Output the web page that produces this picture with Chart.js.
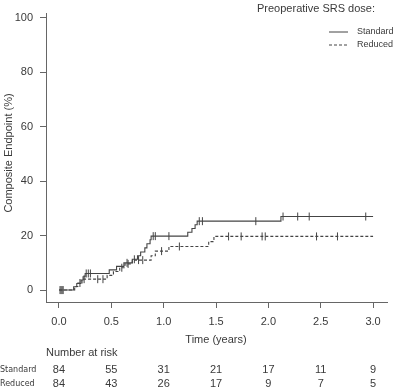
<!DOCTYPE html>
<html>
<head>
<meta charset="utf-8">
<script src="https://cdn.jsdelivr.net/npm/chart.js@4.4.1/dist/chart.umd.min.js"></script>
<style>
  html, body { margin: 0; padding: 0; background: #fff; }
  #wrap { width: 395px; height: 389px; }
</style>
</head>
<body>
<div id="wrap"><canvas id="km_chart"></canvas></div>
<script>
// step curves: time (years) where the estimate changes, and new value (%)
var standard_t = [0, 0.14, 0.17, 0.21, 0.23, 0.25, 0.48, 0.55, 0.62, 0.70, 0.75, 0.78, 0.82, 0.84, 0.87, 0.88, 1.23, 1.27, 1.30, 1.32, 2.12, 3.0];
var standard_v = [0, 1.2, 2.4, 3.7, 4.9, 6.1, 7.4, 8.7, 10.0, 11.3, 12.6, 14.0, 15.5, 17.0, 18.5, 19.8, 21.2, 22.6, 24.0, 25.3, 27.0, 27.0];
var reduced_t = [0, 0.15, 0.18, 0.22, 0.46, 0.52, 0.58, 0.63, 0.70, 0.88, 0.92, 1.05, 1.43, 1.48, 3.0];
var reduced_v = [0, 1.3, 2.6, 4.0, 5.4, 6.8, 8.2, 9.6, 11.0, 12.6, 14.3, 16.0, 17.8, 19.7, 19.7];

// censored observations
var standard_cens_t = [0.01, 0.03, 0.26, 0.28, 0.30, 0.65, 0.72, 0.90, 0.92, 1.05, 1.34, 1.37, 1.88, 2.14, 2.28, 2.39, 2.93];
var standard_cens_v = [0, 0, 6.1, 6.1, 6.1, 10.0, 11.3, 19.8, 19.8, 19.8, 25.3, 25.3, 25.3, 27.0, 27.0, 27.0, 27.0];
var reduced_cens_t = [0.02, 0.04, 0.20, 0.24, 0.37, 0.42, 0.60, 0.66, 0.76, 0.80, 0.98, 1.15, 1.62, 1.74, 1.94, 1.97, 2.46, 2.66];
var reduced_cens_v = [0, 0, 2.6, 4.0, 4.0, 4.0, 8.2, 9.6, 11.0, 11.0, 14.3, 16.0, 19.7, 19.7, 19.7, 19.7, 19.7, 19.7];

var x_ticks = [0, 0.5, 1.0, 1.5, 2.0, 2.5, 3.0];
var y_ticks = [0, 20, 40, 60, 80, 100];

// number at risk, one value per x tick
var risk_standard = [84, 55, 31, 21, 17, 11, 9];
var risk_reduced = [84, 43, 26, 17, 9, 7, 5];

var ink = '#444';
var txt = '#3a3a3a';
var sans = '"Liberation Sans", Arial, sans-serif';

function pts(t, v) {
  return t.map(function (x, i) { return { x: x, y: v[i] }; });
}

var extras = {
  id: 'extras',
  afterDraw: function (chart) {
    var ctx = chart.ctx;
    var xs = chart.scales.x;
    ctx.save();
    ctx.fillStyle = txt;

    // axis titles
    ctx.font = '11px ' + sans;
    ctx.textAlign = 'center';
    ctx.textBaseline = 'middle';
    ctx.fillText('Time (years)', 216, 340);
    ctx.save();
    ctx.translate(9, 153);
    ctx.rotate(-Math.PI / 2);
    ctx.fillText('Composite Endpoint (%)', 0, 0);
    ctx.restore();

    // legend
    ctx.fillText('Preoperative SRS dose:', 316, 9);
    ctx.font = '9px ' + sans;
    ctx.textAlign = 'left';
    var rows = [chart.data.datasets[0], chart.data.datasets[1]];
    rows.forEach(function (ds, i) {
      var y = 32 + i * 13;
      ctx.strokeStyle = ink;
      ctx.lineWidth = 1;
      ctx.setLineDash(ds.borderDash || []);
      ctx.beginPath();
      ctx.moveTo(329, y);
      ctx.lineTo(348, y);
      ctx.stroke();
      ctx.setLineDash([]);
      ctx.fillText(ds.label, 357, y);
    });

    // risk table
    ctx.font = '11px ' + sans;
    ctx.fillText('Number at risk', 46, 353);
    ctx.textAlign = 'center';
    x_ticks.forEach(function (t, i) {
      var px = xs.getPixelForValue(t);
      ctx.fillText(String(risk_standard[i]), px, 370);
      ctx.fillText(String(risk_reduced[i]), px, 384);
    });
    ctx.font = '8px "DejaVu Sans", sans-serif';
    ctx.textAlign = 'left';
    ctx.fillText('Standard', 0, 370);
    ctx.fillText('Reduced', 0, 384);
    ctx.restore();
  }
};

var ctx = document.getElementById('km_chart').getContext('2d');
var km_chart = new Chart(ctx, {
  type: 'line',
  data: {
    datasets: [{
      label: 'Standard',
      data: pts(standard_t, standard_v),
      stepped: true,
      borderColor: ink,
      borderWidth: 1.1,
      pointRadius: 0
    }, {
      label: 'Reduced',
      data: pts(reduced_t, reduced_v),
      stepped: true,
      borderColor: ink,
      borderWidth: 1.1,
      borderDash: [3, 2],
      pointRadius: 0
    }, {
      label: 'Standard censored',
      data: pts(standard_cens_t, standard_cens_v),
      showLine: false,
      pointStyle: 'line',
      rotation: 90,
      pointRadius: 4,
      borderColor: ink,
      borderWidth: 1
    }, {
      label: 'Reduced censored',
      data: pts(reduced_cens_t, reduced_cens_v),
      showLine: false,
      pointStyle: 'line',
      rotation: 90,
      pointRadius: 4,
      borderColor: ink,
      borderWidth: 1
    }]
  },
  options: {
    responsive: true,
    maintainAspectRatio: false,
    animation: false,
    layout: { padding: { top: 0, right: 8, left: 0, bottom: 0 } },
    plugins: {
      legend: { display: false },
      tooltip: { enabled: false }
    },
    scales: {
      x: {
        type: 'linear',
        min: -0.124,
        max: 3.133,
        afterBuildTicks: function (s) { s.ticks = x_ticks.map(function (v) { return { value: v }; }); },
        afterFit: function (s) { s.height = 87; },
        ticks: {
          callback: function (v) { return v.toFixed(1); },
          font: { size: 11, family: sans },
          color: txt,
          padding: 7,
          maxRotation: 0
        },
        grid: { drawOnChartArea: false, tickLength: 6, color: '#666' },
        border: { color: '#666' }
      },
      y: {
        min: -4.38,
        max: 101.5,
        afterBuildTicks: function (s) { s.ticks = y_ticks.map(function (v) { return { value: v }; }); },
        afterFit: function (s) { s.width = 46; },
        ticks: {
          font: { size: 11, family: sans },
          color: txt,
          padding: 7
        },
        grid: { drawOnChartArea: false, tickLength: 6, color: '#666' },
        border: { color: '#666' }
      }
    }
  },
  plugins: [extras]
});
</script>
</body>
</html>
